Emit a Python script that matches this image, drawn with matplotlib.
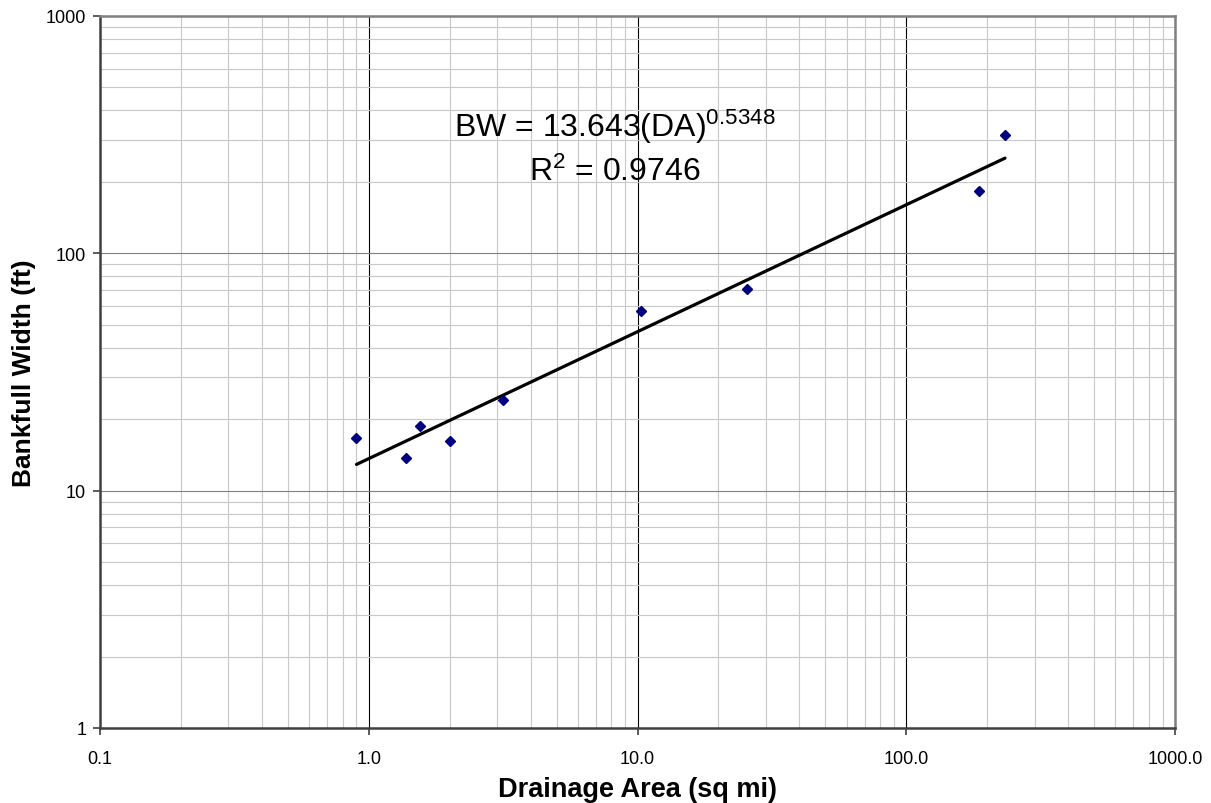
import matplotlib.pyplot as plt
import numpy as np
from matplotlib.ticker import FixedLocator, LogLocator, NullFormatter

plt.rcParams["font.family"] = ["Liberation Sans", "DejaVu Sans"]
plt.rcParams["mathtext.fontset"] = "custom"
plt.rcParams["mathtext.rm"] = "Liberation Sans"
plt.rcParams["mathtext.default"] = "regular"

# drainage area (sq mi) and bankfull width (ft)
drainage_area = [0.90, 1.38, 1.55, 2.0, 3.17, 10.3, 25.6, 186, 233]
bankfull_width = [16.6, 13.7, 18.7, 16.2, 24.0, 57.0, 70.8, 183, 314]

coef = 13.643
expo = 0.5348
r2 = 0.9746

x_ticks = [0.1, 1, 10, 100, 1000]
x_labels = ["0.1", "1.0", "10.0", "100.0", "1000.0"]
y_ticks = [1, 10, 100, 1000]
y_labels = ["1", "10", "100", "1000"]

fig = plt.figure(figsize=(12.11, 8.04), dpi=100)
ax = fig.add_axes([0.0826, 0.0933, 0.8877, 0.8856])
ax.set_xscale("log")
ax.set_yscale("log")
ax.set_xlim(0.1, 1000)
ax.set_ylim(1, 1000)

ax.xaxis.set_major_locator(FixedLocator(x_ticks))
ax.yaxis.set_major_locator(FixedLocator(y_ticks))
ax.set_xticklabels(x_labels)
ax.set_yticklabels(y_labels)
ax.xaxis.set_minor_locator(LogLocator(base=10, subs=np.arange(2, 10)))
ax.yaxis.set_minor_locator(LogLocator(base=10, subs=np.arange(2, 10)))
ax.xaxis.set_minor_formatter(NullFormatter())
ax.yaxis.set_minor_formatter(NullFormatter())

ax.grid(which="minor", color="#c8c8c8", lw=0.8)
ax.xaxis.grid(which="major", color="#000000", lw=0.8)
ax.yaxis.grid(which="major", color="#808080", lw=0.8)
ax.set_axisbelow(True)

ax.tick_params(which="major", direction="out", length=5, width=1.2,
               color="#404040", labelsize=13, pad=5)
ax.tick_params(which="minor", length=0)
ax.tick_params(axis="x", pad=11)

for side in ["left", "bottom"]:
    ax.spines[side].set_color("#404040")
    ax.spines[side].set_linewidth(1.8)
for side in ["top", "right"]:
    ax.spines[side].set_color("#808080")
    ax.spines[side].set_linewidth(1.8)

# power trend line
xs = np.logspace(np.log10(min(drainage_area)), np.log10(max(drainage_area)), 50)
ax.plot(xs, coef * xs ** expo, color="black", lw=2.3, solid_capstyle="round",
        zorder=3)

ax.plot(drainage_area, bankfull_width, linestyle="none", marker="D",
        markersize=5.4, color="#000080", zorder=4)

ax.text(0.479, 0.831, f"BW = {coef}(DA)$^{{{expo}}}$", transform=ax.transAxes,
        ha="center", va="baseline", fontsize=23)
ax.text(0.479, 0.770, f"R$^{{2}}$ = {r2}", transform=ax.transAxes,
        ha="center", va="baseline", fontsize=23)

ax.set_xlabel("Drainage Area (sq mi)", fontsize=19.5, fontweight="bold",
              labelpad=6)
ax.set_ylabel("Bankfull Width (ft)", fontsize=19, fontweight="bold",
              labelpad=7)

fig.savefig("out.png", dpi=100)
